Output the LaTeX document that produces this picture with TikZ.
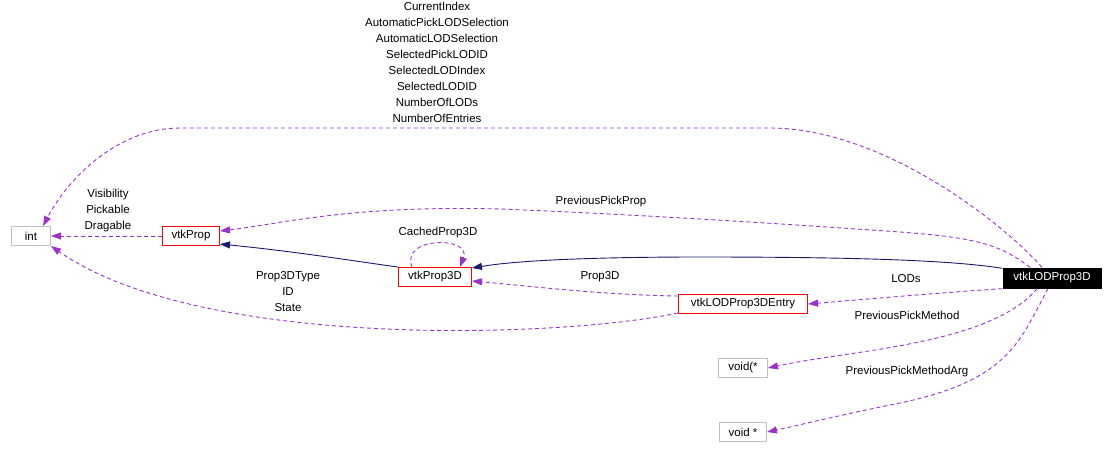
\documentclass[tikz,border=0pt]{standalone}
\usepackage{fontspec}
\setmainfont{Liberation Sans}
\usetikzlibrary{arrows.meta}
\definecolor{edgepurple}{HTML}{9A32CD}
\definecolor{inhnavy}{HTML}{191970}
\definecolor{boxgray}{HTML}{BFBFBF}
\begin{document}
\begin{tikzpicture}[x=1pt, y=-1pt, font=\fontsize{11.5}{16}\selectfont, line join=round,
		cls/.style={draw=red, line width=1pt, minimum height=19, inner sep=0},
		extbox/.style={draw=boxgray, line width=1pt, minimum height=19, inner sep=0},
		member/.style={edgepurple, line width=0.9pt, dash pattern=on 4pt off 3pt, -{Triangle[length=10pt,width=7pt]}},
		inherit/.style={inhnavy, line width=0.9pt, -{Triangle[length=10pt,width=7pt]}},
		lbl/.style={align=center, inner sep=0}]
	\useasboundingbox (0,0) rectangle (1114,458);
	% classes
	\node[extbox, minimum width=39] (int) at (31,236) {int};
	\node[cls, minimum width=57] (prop) at (191,236) {vtkProp};
	\node[cls, minimum width=73] (p3d) at (435,277) {vtkProp3D};
	\node[cls, minimum width=129] (entry) at (743,304) {vtkLODProp3DEntry};
	\node[fill=black, text=white, minimum width=99, minimum height=21, inner sep=0] (lod) at (1052,278) {vtkLODProp3D};
	\node[extbox, minimum width=49] (vfn) at (743,368) {void(*};
	\node[extbox, minimum width=47] (vptr) at (743,432) {void *};
	% inheritance
	\draw[inherit] (p3d.north west) .. controls (360,262) and (300,252) .. ([yshift=2pt]prop.south east);
	\draw[inherit] ([yshift=-1pt]lod.north west) .. controls (950,260) and (850,257) .. (700,257)
		.. controls (600,257) and (520,260) .. ([yshift=-1pt]p3d.north east);
	% members
	\draw[member] ([xshift=-10pt]lod.north) .. controls (1000,220) and (880,128) .. (770,128) -- (180,128)
		.. controls (120,128) and (70,175) .. ([xshift=-8pt]int.north east);
	\draw[member] ([xshift=-22pt]lod.north) .. controls (1000,245) and (980,238) .. (900,232)
		.. controls (800,225) and (650,215) .. (500,209) .. controls (350,205) and (280,224) .. ([yshift=5pt]prop.east);
	\draw[member] (prop.west) -- (int.east);
	\draw[member] ([xshift=14pt]p3d.north west) .. controls (400,236) and (472,236) .. ([xshift=-12pt]p3d.north east);
	\draw[member] ([yshift=-2pt]entry.north west) .. controls (600,295) and (520,285) .. ([yshift=-4pt]p3d.east);
	\draw[member] ([yshift=1pt]entry.south west) .. controls (560,338) and (200,350) .. (int.south east);
	\draw[member] (lod.south west) .. controls (950,292) and (880,298) .. (entry.east);
	\draw[member] ([xshift=-15pt]lod.south) .. controls (990,345) and (850,350) .. (vfn.east);
	\draw[member] ([xshift=-4pt]lod.south) .. controls (1020,340) and (1010,380) .. (900,403)
		.. controls (840,415) and (800,425) .. (vptr.east);
	% labels
	\node[lbl] (lbltop) at (437,62) {CurrentIndex\\AutomaticPickLODSelection\\AutomaticLODSelection\\SelectedPickLODID\\SelectedLODIndex\\SelectedLODID\\NumberOfLODs\\NumberOfEntries};
	\node[lbl] (lblvis) at (108,211) {Visibility\\Pickable\\Dragable};
	\node[lbl] (lblpick) at (601,202) {PreviousPickProp};
	\node[lbl] (lblcache) at (438,233) {CachedProp3D};
	\node[lbl] (lblp3d) at (600,277) {Prop3D};
	\node[lbl] (lbltype) at (288,292) {Prop3DType\\ID\\State};
	\node[lbl] (lbllods) at (906,279) {LODs};
	\node[lbl] (lblmeth) at (907,315) {PreviousPickMethod};
	\node[lbl] (lblarg) at (907,372) {PreviousPickMethodArg};
\end{tikzpicture}
\end{document}
